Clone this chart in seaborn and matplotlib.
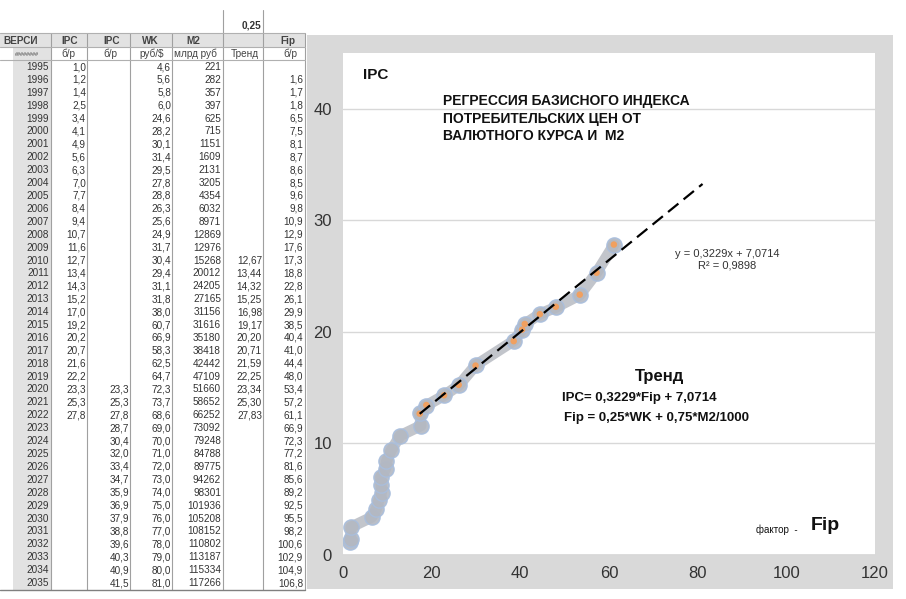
import numpy as np
import pandas as pd
import matplotlib.pyplot as plt
import matplotlib.patches as mpatches
import seaborn as sns

sns.set_theme(style="white")
plt.rcParams['font.family'] = ['Liberation Sans', 'DejaVu Sans']

# table data (years 1995..2035)
years = list(range(1995, 2036))
ipc = [1.0, 1.2, 1.4, 2.5, 3.4, 4.1, 4.9, 5.6, 6.3, 7.0, 7.7, 8.4, 9.4, 10.7, 11.6,
       12.7, 13.4, 14.3, 15.2, 17.0, 19.2, 20.2, 20.7, 21.6, 22.2, 23.3, 25.3, 27.8]
ipc_forecast = [23.3, 25.3, 27.8, 28.7, 30.4, 32.0, 33.4, 34.7, 35.9, 36.9, 37.9,
                38.8, 39.6, 40.3, 40.9, 41.5]  # 2020..2035
wk = [4.6, 5.6, 5.8, 6.0, 24.6, 28.2, 30.1, 31.4, 29.5, 27.8, 28.8, 26.3, 25.6, 24.9,
      31.7, 30.4, 29.4, 31.1, 31.8, 38.0, 60.7, 66.9, 58.3, 62.5, 64.7, 72.3, 73.7,
      68.6, 69.0, 70.0, 71.0, 72.0, 73.0, 74.0, 75.0, 76.0, 77.0, 78.0, 79.0, 80.0, 81.0]
m2 = [221, 282, 357, 397, 625, 715, 1151, 1609, 2131, 3205, 4354, 6032, 8971, 12869,
      12976, 15268, 20012, 24205, 27165, 31156, 31616, 35180, 38418, 42442, 47109,
      51660, 58652, 66252, 73092, 79248, 84788, 89775, 94262, 98301, 101936, 105208,
      108152, 110802, 113187, 115334, 117266]
trend = [12.67, 13.44, 14.32, 15.25, 16.98, 19.17, 20.20, 20.71, 21.59, 22.25,
         23.34, 25.30, 27.83]  # 2010..2022
fip = [None, 1.6, 1.7, 1.8, 6.5, 7.5, 8.1, 8.7, 8.6, 8.5, 9.6, 9.8, 10.9, 12.9, 17.6,
       17.3, 18.8, 22.8, 26.1, 29.9, 38.5, 40.4, 41.0, 44.4, 48.0, 53.4, 57.2, 61.1,
       66.9, 72.3, 77.2, 81.6, 85.6, 89.2, 92.5, 95.5, 98.2, 100.6, 102.9, 104.9, 106.8]

# regression shown on the chart
slope, intercept = 0.3229, 7.0714
forecast_forward = 20

fig = plt.figure(figsize=(9.06, 5.99), dpi=100)
fig.patch.set_facecolor('white')

# ---- spreadsheet part, drawn in pixel coordinates ----
tab = fig.add_axes([0, 0, 1, 1])
tab.set_xlim(0, 906)
tab.set_ylim(599, 0)
tab.axis('off')

row0, row_h = 67, 12.9
bottom = row0 + row_h * (len(years) - 1) + 7
tab.add_patch(mpatches.Rectangle((0, 33), 305, 14, color='#e2e2e2', lw=0))
tab.add_patch(mpatches.Rectangle((13, 47), 38, bottom - 47, color='#e2e2e2', lw=0))
for xv in [51, 87, 130, 172, 223, 263, 305]:
    top = 10 if xv in (223, 263) else 33
    tab.plot([xv, xv], [top, bottom], color='#a0a0a0', lw=0.8)
for yv in [33, 47, 60]:
    tab.plot([0, 305], [yv, yv], color='#b0b0b0', lw=0.8)
tab.plot([0, 305], [bottom, bottom], color='#808080', lw=1)

fs = 7.2
tab.text(252, 25, '0,25', fontsize=fs, fontweight='bold', ha='center', va='center', color='#333')
heads = [(3, 'ВЕРСИ', 'left'), (70, 'IPC', 'center'), (112, 'IPC', 'center'),
         (150, 'WK', 'center'), (193, 'M2', 'center'), (288, 'Fip', 'center')]
for xv, s, ha in heads:
    tab.text(xv, 41, s, fontsize=fs, fontweight='bold', ha=ha, va='center', color='#444')
units = [(27, '########', 'center'), (68, 'б/р', 'center'), (110, 'б/р', 'center'),
         (152, 'руб/$', 'center'), (195, 'млрд руб', 'center'), (245, 'Тренд', 'center'),
         (290, 'б/р', 'center')]
for xv, s, ha in units:
    tab.text(xv, 54, s, fontsize=fs if s[0] != '#' else 4, ha=ha, va='center', color='#444')


def fmt(v, nd=1):
    return f"{v:.{nd}f}".replace('.', ',')


for i, yr in enumerate(years):
    yy = row0 + i * row_h
    tab.text(49, yy, str(yr), fontsize=fs, ha='right', va='center', color='#333')
    if i < len(ipc):
        tab.text(86, yy, fmt(ipc[i]), fontsize=fs, ha='right', va='center', color='#333')
    if yr >= 2020:
        tab.text(129, yy, fmt(ipc_forecast[yr - 2020]), fontsize=fs, ha='right', va='center', color='#333')
    tab.text(171, yy, fmt(wk[i]), fontsize=fs, ha='right', va='center', color='#333')
    tab.text(221, yy, str(m2[i]), fontsize=fs, ha='right', va='center', color='#333')
    if 2010 <= yr <= 2022:
        tab.text(262, yy, fmt(trend[yr - 2010], 2), fontsize=fs, ha='right', va='center', color='#333')
    if fip[i] is not None:
        tab.text(303, yy, fmt(fip[i]), fontsize=fs, ha='right', va='center', color='#333')

# grey chart frame
tab.add_patch(mpatches.Rectangle((307, 35), 586, 554, color='#d9d9d9', lw=0))

# ---- chart ----
ax = fig.add_axes([343 / 906, 44 / 599, 532 / 906, 502 / 599])
ax.set_facecolor('white')

hist = pd.DataFrame({'fip': fip[:len(ipc)], 'ipc': ipc}).dropna()
tr = pd.DataFrame({'fip': fip[15:28], 'trend': trend})

sns.lineplot(data=hist, x='fip', y='ipc', sort=False, ax=ax, color='#bcbfc6', lw=8,
             marker='o', markersize=11, markerfacecolor='#b3b8c2', markeredgecolor='#a8bede',
             markeredgewidth=1, alpha=0.9, zorder=2)
sns.scatterplot(data=tr, x='fip', y='trend', ax=ax, color='#f0a060', s=22,
                edgecolor='none', zorder=3)
xs = np.array([tr['fip'].min(), tr['fip'].max() + forecast_forward])
line = pd.DataFrame({'x': xs, 'y': slope * xs + intercept})
sns.lineplot(data=line, x='x', y='y', ax=ax, color='black', lw=1.6, zorder=4)
ax.lines[-1].set_dashes([6, 3])

ax.set_xlim(0, 120)
ax.set_ylim(0, 45)
ax.set_xticks(range(0, 121, 20))
ax.set_yticks(range(0, 41, 10))
ax.yaxis.grid(True, color='#d8d8d8', lw=1)
ax.set_axisbelow(True)
ax.set_xlabel('')
ax.set_ylabel('')
for sp in ['top', 'right', 'left']:
    ax.spines[sp].set_visible(False)
ax.spines['bottom'].set_color('#d8d8d8')
ax.tick_params(axis='both', labelsize=12, colors='#333', length=0, pad=8)

ax.text(4.5, 43.0, 'IPC', fontsize=11, fontweight='bold', va='center', color='#111')
ax.text(22.6, 41.3, 'РЕГРЕССИЯ БАЗИСНОГО ИНДЕКСА\nПОТРЕБИТЕЛЬСКИХ ЦЕН ОТ\nВАЛЮТНОГО КУРСА И  М2',
        fontsize=10, fontweight='bold', va='top', linespacing=1.3, color='#111')
ax.text(86.6, 26.5, 'y = 0,3229x + 7,0714\nR² = 0,9898', fontsize=8, ha='center',
        va='center', linespacing=1.2, color='#333')
ax.text(71.5, 16.0, 'Тренд', fontsize=12, fontweight='bold', ha='center', va='center', color='#111')
ax.text(49.4, 14.1, 'IPC= 0,3229*Fip + 7,0714', fontsize=9.5, fontweight='bold', va='center', color='#111')
ax.text(49.8, 12.3, 'Fip = 0,25*WK + 0,75*M2/1000', fontsize=9.5, fontweight='bold', va='center', color='#111')
ax.text(93.2, 2.3, 'фактор  -', fontsize=7, va='center', color='#111')
ax.text(105.5, 2.6, 'Fip', fontsize=14, fontweight='bold', va='center', color='#111')

fig.savefig('out.png', dpi=100)
